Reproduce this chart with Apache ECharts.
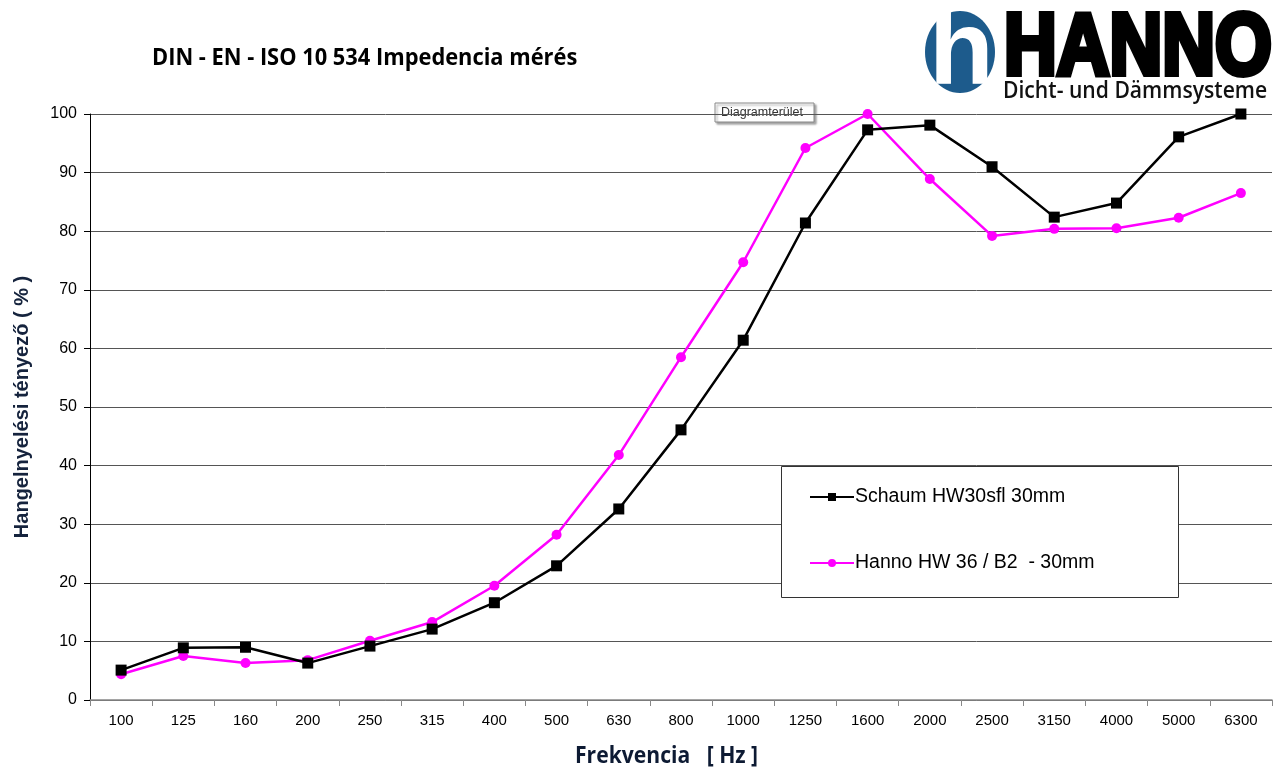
<!DOCTYPE html>
<html>
<head>
<meta charset="utf-8">
<script src="https://cdn.jsdelivr.net/npm/echarts@6/dist/echarts.min.js"></script>
<style>
  html, body { margin: 0; padding: 0; background: #fff; }
  #chart { width: 1277px; height: 770px; }
</style>
</head>
<body>
<div id="chart"></div>
<script>
// Frekvencia kategóriák (Hz)
const frekvencia = ['100', '125', '160', '200', '250', '315', '400', '500', '630', '800',
    '1000', '1250', '1600', '2000', '2500', '3150', '4000', '5000', '6300'];

// Schaum HW30sfl 30mm
const schaum = [5.1, 8.9, 9.0, 6.3, 9.2, 12.1, 16.6, 22.9, 32.6, 46.1,
    61.4, 81.4, 97.3, 98.1, 91.0, 82.4, 84.8, 96.1, 100];

// Hanno HW 36 / B2 - 30mm
const hanno = [4.4, 7.5, 6.3, 6.8, 10.1, 13.3, 19.5, 28.2, 41.8, 58.5,
    74.7, 94.2, 100, 88.9, 79.2, 80.4, 80.5, 82.3, 86.5];

const yTicks = [0, 10, 20, 30, 40, 50, 60, 70, 80, 90, 100];

const chartDom = document.getElementById('chart');
const myChart = echarts.init(chartDom);

const labelFont = 'Liberation Sans, Arial, sans-serif';
const boldFont = 'Open Sans, sans-serif';

const option = {
    backgroundColor: '#fff',
    animation: false,
    grid: {
        left: 90,
        right: 5,
        top: 114,
        bottom: 70
    },
    legend: {
        orient: 'vertical',
        left: 804,
        top: 482,
        itemGap: 46,
        itemWidth: 44,
        itemHeight: 10,
        z: 10,
        textStyle: {
            fontFamily: labelFont,
            fontSize: 19.5,
            color: '#000',
            padding: [0, 0, 0, -4]
        },
        data: ['Schaum HW30sfl 30mm', 'Hanno HW 36 / B2  - 30mm']
    },
    xAxis: {
        type: 'category',
        data: frekvencia,
        boundaryGap: true,
        axisLine: { lineStyle: { color: '#888', width: 1.5 } },
        axisTick: { show: true, length: 6, lineStyle: { color: '#888' } },
        axisLabel: {
            fontFamily: labelFont,
            fontSize: 15,
            color: '#000',
            margin: 13,
            interval: 0
        }
    },
    yAxis: {
        type: 'value',
        min: yTicks[0],
        max: yTicks[yTicks.length - 1],
        interval: 10,
        name: 'Hangelnyelési tényező ( % )',
        nameLocation: 'middle',
        nameGap: 58,
        nameTextStyle: {
            fontFamily: labelFont,
            fontWeight: 'bold',
            fontSize: 20,
            color: '#15233d'
        },
        axisLine: { show: true, lineStyle: { color: '#000', width: 1 } },
        axisTick: { show: true, length: 6, lineStyle: { color: '#000' } },
        axisLabel: {
            fontFamily: labelFont,
            fontSize: 16,
            color: '#000',
            margin: 13
        },
        splitLine: { show: true, lineStyle: { color: '#555', width: 1 } }
    },
    series: [
        {
            name: 'Schaum HW30sfl 30mm',
            type: 'line',
            data: schaum,
            smooth: false,
            symbol: 'rect',
            symbolSize: 11,
            lineStyle: { color: '#000', width: 2.5 },
            itemStyle: { color: '#000' },
            z: 3
        },
        {
            name: 'Hanno HW 36 / B2  - 30mm',
            type: 'line',
            data: hanno,
            smooth: false,
            symbol: 'circle',
            symbolSize: 10,
            lineStyle: { color: '#ff00ff', width: 2.5 },
            itemStyle: { color: '#ff00ff' },
            z: 2
        }
    ],
    graphic: [
        // cím
        {
            type: 'text',
            x: 152,
            y: 46,
            scaleX: 0.91,
            style: {
                text: 'DIN - EN - ISO 10 534 Impedencia mérés',
                fontFamily: boldFont,
                fontWeight: 'bold',
                fontSize: 24,
                fill: '#000'
            }
        },
        // jelmagyarázat kerete
        {
            type: 'rect',
            z: 5,
            shape: { x: 781.5, y: 466.5, width: 397, height: 131 },
            style: { fill: '#fff', stroke: '#333', lineWidth: 1 }
        },
        // x tengely címe
        {
            type: 'text',
            x: 575,
            y: 744,
            scaleX: 0.88,
            style: {
                text: 'Frekvencia   [ Hz ]',
                fontFamily: boldFont,
                fontWeight: 'bold',
                fontSize: 24,
                fill: '#0d1a33'
            }
        },
        // "Diagramterület" felirat
        {
            type: 'group',
            x: 715,
            y: 103,
            z: 20,
            children: [
                {
                    type: 'rect',
                    shape: { x: 0, y: 0, width: 99, height: 19 },
                    style: { fill: '#fff', stroke: '#888', lineWidth: 1,
                        shadowBlur: 2, shadowOffsetX: 2, shadowOffsetY: 2, shadowColor: 'rgba(0,0,0,0.35)' }
                },
                {
                    type: 'text',
                    x: 6, y: 10,
                    style: { text: 'Diagramterület', fontFamily: labelFont, fontSize: 12.5,
                        fill: '#333', verticalAlign: 'middle' }
                }
            ]
        },
        // HANNO logó
        {
            type: 'ellipse',
            shape: { cx: 960, cy: 52, rx: 35, ry: 41 },
            style: { fill: '#1d5b8c' }
        },
        {
            type: 'text',
            x: 929,
            y: 2,
            style: {
                text: 'h',
                fontFamily: 'Liberation Sans, sans-serif',
                fontWeight: 'bold',
                fontSize: 106,
                fill: '#fff'
            }
        },
        {
            type: 'text',
            x: 1004,
            y: 6,
            scaleX: 0.83,
            style: {
                text: 'HANNO',
                fontFamily: 'Liberation Sans, sans-serif',
                fontWeight: 900,
                fontSize: 88,
                fill: '#000',
                stroke: '#000',
                lineWidth: 6
            }
        },
        {
            type: 'text',
            x: 1003,
            y: 79,
            scaleX: 0.88,
            style: {
                text: 'Dicht- und Dämmsysteme',
                fontFamily: boldFont,
                fontWeight: 600,
                fontSize: 24,
                fill: '#111'
            }
        }
    ]
};

myChart.setOption(option);
</script>
</body>
</html>
